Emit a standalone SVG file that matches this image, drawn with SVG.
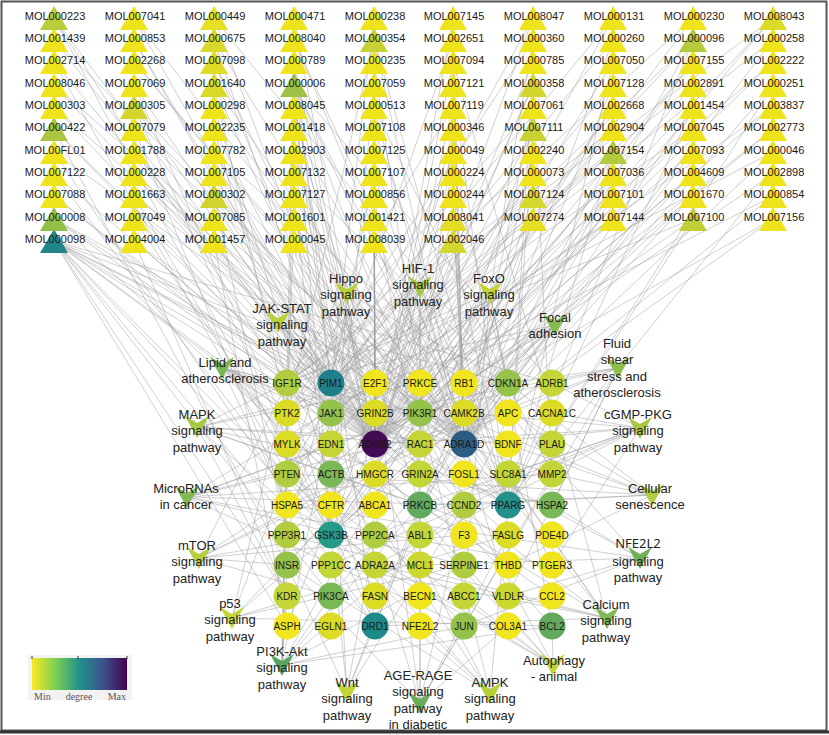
<svg xmlns="http://www.w3.org/2000/svg" xmlns:xlink="http://www.w3.org/1999/xlink" width="829" height="735" viewBox="0 0 829 735">
<style>
.e{stroke:#9c9c9c;stroke-width:0.6;fill:none;stroke-opacity:0.8}
.m{font-family:"Liberation Sans",Arial,sans-serif;font-size:11px;fill:#1a1a1a;text-anchor:middle}
.g{font-family:"Liberation Sans",Arial,sans-serif;font-size:10px;fill:#1a1a1a;text-anchor:middle}
.p{font-family:"Liberation Sans",Arial,sans-serif;font-size:13px;fill:#222;text-anchor:middle}
.n{font-family:"Noto Sans","Liberation Sans",sans-serif;font-size:13px;fill:#222;text-anchor:middle}
.lg{font-family:"Liberation Serif",serif;font-size:10px;fill:#555}
</style>
<defs>
<path id="tri" d="M0,-12L14,12L-14,12Z"/>
<path id="v" d="M-12,-11L0,-4L12,-11L0,11Z"/>
<linearGradient id="vir" x1="0" x2="1" y1="0" y2="0">
<stop offset="0" stop-color="#fde725"/>
<stop offset="0.25" stop-color="#7ad151"/>
<stop offset="0.5" stop-color="#21918c"/>
<stop offset="0.75" stop-color="#3b528b"/>
<stop offset="1" stop-color="#440154"/>
</linearGradient>
</defs>
<rect x="0" y="0" width="829" height="735" fill="#fff"/>
<rect x="1.5" y="1.5" width="825" height="729" fill="none" stroke="#555" stroke-width="2"/>
<line x1="0" y1="732" x2="829" y2="732" stroke="#333" stroke-width="3"/>
<g id="connectors">
<path class="e" d="M54 18L375 444M54 18L287 383M54 18L331 535M54 40L375 444M54 40L464 444M54 62L375 444M54 62L287 474M54 85L464 444M54 85L331 383M54 107L375 444M54 107L508 505M54 129L375 444M54 129L331 413M54 129L287 565M54 152L464 444M54 152L375 626M54 174L375 444M54 174L331 535M54 196L375 444M54 196L287 383M54 219L375 444M54 219L464 444M54 219L331 474M54 219L508 505M54 241L375 444M54 241L464 444M54 241L331 383M54 241L508 505M54 241L375 626M54 241L331 535M54 241L287 413M54 241L420 505M54 241L287 596M54 241L552 383M54 241L420 383M54 241L331 596M54 241L287 626M54 241L375 565"/>
<path class="e" d="M134 18L375 444M134 18L464 444M134 40L375 444M134 40L331 383M134 62L464 444M134 62L508 505M134 85L375 444M134 85L375 626M134 107L375 444M134 107L420 413M134 107L331 535M134 129L464 444M134 129L287 505M134 152L375 444M134 152L331 383M134 174L375 444M134 174L508 474M134 196L464 444M134 196L331 535M134 219L375 444M134 219L287 444M134 241L375 444M134 241L331 383M134 241L287 596"/>
<path class="e" d="M214 18L375 444M214 18L508 383M214 40L464 444M214 40L331 383M214 62L375 444M214 62L420 474M214 85L375 444M214 85L508 505M214 85L287 413M214 107L464 444M214 107L375 626M214 129L375 444M214 129L331 535M214 152L375 444M214 152L552 444M214 174L464 444M214 174L331 383M214 196L375 444M214 196L508 505M214 196L287 535M214 219L375 444M214 219L420 383M214 241L464 444M214 241L331 413M214 241L287 626"/>
<path class="e" d="M294 18L375 444M294 18L287 383M294 40L464 444M294 40L508 505M294 62L375 444M294 62L331 383M294 85L375 444M294 85L464 444M294 85L508 505M294 85L331 535M294 85L420 413M294 85L287 474M294 85L552 383M294 85L375 626M294 107L375 444M294 107L331 383M294 129L464 444M294 129L420 505M294 152L375 444M294 152L375 413M294 174L375 444M294 174L508 383M294 196L464 444M294 196L331 535M294 219L375 444M294 219L287 413M294 241L375 444M294 241L464 383"/>
<path class="e" d="M374 18L375 444M374 18L331 383M374 40L464 444M374 40L508 505M374 40L287 413M374 62L375 444M374 62L420 383M374 85L375 444M374 85L331 535M374 107L464 444M374 107L552 474M374 129L375 444M374 129L508 505M374 152L375 444M374 152L375 383M374 174L464 444M374 174L331 383M374 196L375 444M374 196L420 474M374 219L375 444M374 219L287 535M374 241L464 444M374 241L375 383"/>
<path class="e" d="M453 18L375 444M453 18L464 444M453 40L464 444M453 40L331 383M453 62L375 444M453 62L552 413M453 85L464 444M453 85L508 505M453 107L375 444M453 107L287 383M453 129L375 444M453 129L420 413M453 152L464 444M453 152L331 535M453 174L375 444M453 174L508 383M453 196L464 444M453 196L287 474M453 219L375 444M453 219L464 383M453 241L375 444M453 241L331 383M453 241L508 505"/>
<path class="e" d="M533 18L375 444M533 18L331 383M533 40L464 444M533 40L287 413M533 62L375 444M533 62L508 505M533 85L375 444M533 85L331 535M533 85L552 474M533 107L464 444M533 107L287 383M533 129L375 444M533 129L420 474M533 129L508 505M533 152L464 444M533 152L331 383M533 174L375 444M533 174L287 505M533 196L375 444M533 196L464 413M533 219L464 444M533 219L375 626"/>
<path class="e" d="M613 18L375 444M613 18L287 413M613 40L464 444M613 40L331 383M613 62L375 444M613 62L508 505M613 85L464 444M613 85L287 474M613 107L375 444M613 107L331 535M613 129L375 444M613 129L287 383M613 152L464 444M613 152L508 505M613 152L331 383M613 152L287 444M613 174L375 444M613 174L420 505M613 196L464 444M613 196L287 565M613 219L375 444M613 219L331 413"/>
<path class="e" d="M693 18L375 444M693 18L287 383M693 40L464 444M693 40L331 383M693 40L508 505M693 40L287 474M693 62L375 444M693 62L331 535M693 85L375 444M693 85L287 413M693 107L464 444M693 107L508 505M693 129L375 444M693 129L331 383M693 152L464 444M693 152L287 505M693 174L375 444M693 174L420 444M693 196L464 444M693 196L331 535M693 219L375 444M693 219L287 383M693 219L508 505"/>
<path class="e" d="M773 18L375 444M773 18L287 383M773 18L331 535M773 40L464 444M773 40L331 383M773 62L375 444M773 62L287 474M773 85L464 444M773 85L508 505M773 107L375 444M773 107L331 413M773 129L375 444M773 129L287 535M773 152L464 444M773 152L331 383M773 174L375 444M773 174L508 505M773 196L464 444M773 196L287 444M773 219L375 444M773 219L331 535"/>
<path class="e" d="M347 293L464 413M347 293L331 535M347 293L375 535M347 293L464 505M347 293L287 383M347 293L508 383M347 293L287 474"/>
<path class="e" d="M420 287L287 383M420 287L375 383M420 287L420 413M420 287L331 413M420 287L420 444M420 287L552 565M420 287L508 596M420 287L287 626M420 287L375 474"/>
<path class="e" d="M490 293L287 383M490 293L420 413M490 293L508 383M490 293L287 474M490 293L331 535M490 293L420 444M490 293L464 596M490 293L552 626"/>
<path class="e" d="M278 322L331 383M278 322L331 413M278 322L420 413M278 322L464 505M278 322L508 535M278 322L508 383M278 322L552 626"/>
<path class="e" d="M555 325L287 383M555 325L287 413M555 325L420 413M555 325L420 444M555 325L464 505M555 325L331 535M555 325L331 596M555 325L420 505M555 325L375 474M555 325L464 383"/>
<path class="e" d="M618 368L331 474M618 368L420 413M618 368L464 626M618 368L508 596M618 368L375 413M618 368L287 505M618 368L552 505M618 368L508 383"/>
<path class="e" d="M222 368L287 383M222 368L331 413M222 368L420 413M222 368L420 444M222 368L331 474M222 368L552 474M222 368L464 626M222 368L287 505M222 368L508 505M222 368L552 596M222 368L375 505"/>
<path class="e" d="M197 427L287 383M197 427L375 383M197 427L420 383M197 427L420 444M197 427L508 444M197 427L287 505M197 427L420 505M197 427L287 596M197 427L552 505M197 427L508 535"/>
<path class="e" d="M187 497L287 474M187 497L375 383M187 497L508 383M187 497L508 413M187 497L420 413M187 497L464 505M187 497L552 474M187 497L464 626M187 497L464 565M187 497L552 565"/>
<path class="e" d="M199 558L287 383M199 558L331 535M199 558L420 413M199 558L420 444M199 558L287 565M199 558L464 535M199 558L331 596M199 558L375 474"/>
<path class="e" d="M232 618L287 474M232 618L508 383M232 618L508 535M232 618L464 383M232 618L552 626M232 618L464 565M232 618L287 383"/>
<path class="e" d="M282 665L287 383M282 665L287 413M282 665L331 413M282 665L331 596M282 665L287 596M282 665L464 505M282 665L420 413M282 665L287 565M282 665L464 626M282 665L552 626M282 665L287 474M282 665L420 505M282 665L464 565"/>
<path class="e" d="M347 692L464 413M347 692L331 535M347 692L375 535M347 692L464 505M347 692L420 505M347 692L331 413M347 692L287 565"/>
<path class="e" d="M420 703L420 413M420 703L464 505M420 703L552 474M420 703L420 505M420 703L331 413M420 703L508 626M420 703L287 565M420 703L508 535M420 703L464 626M420 703L375 383"/>
<path class="e" d="M490 693L287 383M490 693L420 413M490 693L375 474M490 693L331 535M490 693L375 596M490 693L508 505M490 693L287 474M490 693L287 565"/>
<path class="e" d="M553 665L287 383M553 665L287 474M553 665L464 596M553 665L552 626M553 665L331 413M553 665L420 413M553 665L287 505M553 665L375 565"/>
<path class="e" d="M640 428L552 383M640 428L375 444M640 428L464 444M640 428L552 413M640 428L508 474M640 428L375 535M640 428L331 565M640 428L375 565M640 428L552 565M640 428L420 505M640 428L464 413"/>
<path class="e" d="M652 495L464 383M652 495L508 383M652 495L287 474M652 495L420 413M652 495L464 505M652 495L552 474M652 495L508 565M652 495L375 383M652 495L420 505"/>
<path class="e" d="M640 558L464 626M640 558L508 596M640 558L420 565M640 558L552 505M640 558L375 413M640 558L287 505M640 558L508 413"/>
<path class="e" d="M607 618L552 413M607 618L464 413M607 618L508 474M607 618L420 383M607 618L375 444M607 618L287 535M607 618L375 626M607 618L420 505M607 618L331 565M607 618L375 565"/>
</g>
<g id="MOL000098"><use href="#tri" x="54" y="241" fill="#22858a"/><text class="m" x="55" y="243">MOL000098</text></g>
<g id="MOL004004"><use href="#tri" x="134" y="241" fill="#efe41c"/><text class="m" x="135" y="243">MOL004004</text></g>
<g id="MOL001457"><use href="#tri" x="214" y="241" fill="#efe41c"/><text class="m" x="215" y="243">MOL001457</text></g>
<g id="MOL000045"><use href="#tri" x="294" y="241" fill="#efe41c"/><text class="m" x="295" y="243">MOL000045</text></g>
<g id="MOL008039"><use href="#tri" x="374" y="241" fill="#efe41c"/><text class="m" x="375" y="243">MOL008039</text></g>
<g id="MOL002046"><use href="#tri" x="453" y="241" fill="#d5d82c"/><text class="m" x="454" y="243">MOL002046</text></g>
<g id="MOL000008"><use href="#tri" x="54" y="219" fill="#93bf48"/><text class="m" x="55" y="221">MOL000008</text></g>
<g id="MOL007049"><use href="#tri" x="134" y="219" fill="#efe41c"/><text class="m" x="135" y="221">MOL007049</text></g>
<g id="MOL007085"><use href="#tri" x="214" y="219" fill="#efe41c"/><text class="m" x="215" y="221">MOL007085</text></g>
<g id="MOL001601"><use href="#tri" x="294" y="219" fill="#efe41c"/><text class="m" x="295" y="221">MOL001601</text></g>
<g id="MOL001421"><use href="#tri" x="374" y="219" fill="#efe41c"/><text class="m" x="375" y="221">MOL001421</text></g>
<g id="MOL008041"><use href="#tri" x="453" y="219" fill="#e3dd24"/><text class="m" x="454" y="221">MOL008041</text></g>
<g id="MOL007274"><use href="#tri" x="533" y="219" fill="#e6df22"/><text class="m" x="534" y="221">MOL007274</text></g>
<g id="MOL007144"><use href="#tri" x="613" y="219" fill="#efe41c"/><text class="m" x="614" y="221">MOL007144</text></g>
<g id="MOL007100"><use href="#tri" x="693" y="219" fill="#c0ce38"/><text class="m" x="694" y="221">MOL007100</text></g>
<g id="MOL007156"><use href="#tri" x="773" y="219" fill="#efe41c"/><text class="m" x="774" y="221">MOL007156</text></g>
<g id="MOL007088"><use href="#tri" x="54" y="196" fill="#efe41c"/><text class="m" x="55" y="198">MOL007088</text></g>
<g id="MOL001663"><use href="#tri" x="134" y="196" fill="#efe41c"/><text class="m" x="135" y="198">MOL001663</text></g>
<g id="MOL000302"><use href="#tri" x="214" y="196" fill="#cfd430"/><text class="m" x="215" y="198">MOL000302</text></g>
<g id="MOL007127"><use href="#tri" x="294" y="196" fill="#efe41c"/><text class="m" x="295" y="198">MOL007127</text></g>
<g id="MOL000856"><use href="#tri" x="374" y="196" fill="#efe41c"/><text class="m" x="375" y="198">MOL000856</text></g>
<g id="MOL000244"><use href="#tri" x="453" y="196" fill="#efe41c"/><text class="m" x="454" y="198">MOL000244</text></g>
<g id="MOL007124"><use href="#tri" x="533" y="196" fill="#d5d82c"/><text class="m" x="534" y="198">MOL007124</text></g>
<g id="MOL007101"><use href="#tri" x="613" y="196" fill="#efe41c"/><text class="m" x="614" y="198">MOL007101</text></g>
<g id="MOL001670"><use href="#tri" x="693" y="196" fill="#efe41c"/><text class="m" x="694" y="198">MOL001670</text></g>
<g id="MOL000854"><use href="#tri" x="773" y="196" fill="#efe41c"/><text class="m" x="774" y="198">MOL000854</text></g>
<g id="MOL007122"><use href="#tri" x="54" y="174" fill="#efe41c"/><text class="m" x="55" y="176">MOL007122</text></g>
<g id="MOL000228"><use href="#tri" x="134" y="174" fill="#efe41c"/><text class="m" x="135" y="176">MOL000228</text></g>
<g id="MOL007105"><use href="#tri" x="214" y="174" fill="#efe41c"/><text class="m" x="215" y="176">MOL007105</text></g>
<g id="MOL007132"><use href="#tri" x="294" y="174" fill="#efe41c"/><text class="m" x="295" y="176">MOL007132</text></g>
<g id="MOL007107"><use href="#tri" x="374" y="174" fill="#efe41c"/><text class="m" x="375" y="176">MOL007107</text></g>
<g id="MOL000224"><use href="#tri" x="453" y="174" fill="#efe41c"/><text class="m" x="454" y="176">MOL000224</text></g>
<g id="MOL000073"><use href="#tri" x="533" y="174" fill="#efe41c"/><text class="m" x="534" y="176">MOL000073</text></g>
<g id="MOL007036"><use href="#tri" x="613" y="174" fill="#efe41c"/><text class="m" x="614" y="176">MOL007036</text></g>
<g id="MOL004609"><use href="#tri" x="693" y="174" fill="#efe41c"/><text class="m" x="694" y="176">MOL004609</text></g>
<g id="MOL002898"><use href="#tri" x="773" y="174" fill="#efe41c"/><text class="m" x="774" y="176">MOL002898</text></g>
<g id="MOL00FL01"><use href="#tri" x="54" y="152" fill="#efe41c"/><text class="m" x="55" y="154">MOL00FL01</text></g>
<g id="MOL001788"><use href="#tri" x="134" y="152" fill="#efe41c"/><text class="m" x="135" y="154">MOL001788</text></g>
<g id="MOL007782"><use href="#tri" x="214" y="152" fill="#efe41c"/><text class="m" x="215" y="154">MOL007782</text></g>
<g id="MOL002903"><use href="#tri" x="294" y="152" fill="#efe41c"/><text class="m" x="295" y="154">MOL002903</text></g>
<g id="MOL007125"><use href="#tri" x="374" y="152" fill="#efe41c"/><text class="m" x="375" y="154">MOL007125</text></g>
<g id="MOL000049"><use href="#tri" x="453" y="152" fill="#efe41c"/><text class="m" x="454" y="154">MOL000049</text></g>
<g id="MOL002240"><use href="#tri" x="533" y="152" fill="#efe41c"/><text class="m" x="534" y="154">MOL002240</text></g>
<g id="MOL007154"><use href="#tri" x="613" y="152" fill="#b2ca3d"/><text class="m" x="614" y="154">MOL007154</text></g>
<g id="MOL007093"><use href="#tri" x="693" y="152" fill="#efe41c"/><text class="m" x="694" y="154">MOL007093</text></g>
<g id="MOL000046"><use href="#tri" x="773" y="152" fill="#efe41c"/><text class="m" x="774" y="154">MOL000046</text></g>
<g id="MOL000422"><use href="#tri" x="54" y="129" fill="#a9c641"/><text class="m" x="55" y="131">MOL000422</text></g>
<g id="MOL007079"><use href="#tri" x="134" y="129" fill="#efe41c"/><text class="m" x="135" y="131">MOL007079</text></g>
<g id="MOL002235"><use href="#tri" x="214" y="129" fill="#efe41c"/><text class="m" x="215" y="131">MOL002235</text></g>
<g id="MOL001418"><use href="#tri" x="294" y="129" fill="#efe41c"/><text class="m" x="295" y="131">MOL001418</text></g>
<g id="MOL007108"><use href="#tri" x="374" y="129" fill="#efe41c"/><text class="m" x="375" y="131">MOL007108</text></g>
<g id="MOL000346"><use href="#tri" x="453" y="129" fill="#efe41c"/><text class="m" x="454" y="131">MOL000346</text></g>
<g id="MOL007111"><use href="#tri" x="533" y="129" fill="#c9d233"/><text class="m" x="534" y="131">MOL007111</text></g>
<g id="MOL002904"><use href="#tri" x="613" y="129" fill="#efe41c"/><text class="m" x="614" y="131">MOL002904</text></g>
<g id="MOL007045"><use href="#tri" x="693" y="129" fill="#efe41c"/><text class="m" x="694" y="131">MOL007045</text></g>
<g id="MOL002773"><use href="#tri" x="773" y="129" fill="#efe41c"/><text class="m" x="774" y="131">MOL002773</text></g>
<g id="MOL000303"><use href="#tri" x="54" y="107" fill="#efe41c"/><text class="m" x="55" y="109">MOL000303</text></g>
<g id="MOL000305"><use href="#tri" x="134" y="107" fill="#d2d62e"/><text class="m" x="135" y="109">MOL000305</text></g>
<g id="MOL000298"><use href="#tri" x="214" y="107" fill="#efe41c"/><text class="m" x="215" y="109">MOL000298</text></g>
<g id="MOL008045"><use href="#tri" x="294" y="107" fill="#efe41c"/><text class="m" x="295" y="109">MOL008045</text></g>
<g id="MOL000513"><use href="#tri" x="374" y="107" fill="#efe41c"/><text class="m" x="375" y="109">MOL000513</text></g>
<g id="MOL007119"><use href="#tri" x="453" y="107" fill="#efe41c"/><text class="m" x="454" y="109">MOL007119</text></g>
<g id="MOL007061"><use href="#tri" x="533" y="107" fill="#efe41c"/><text class="m" x="534" y="109">MOL007061</text></g>
<g id="MOL002668"><use href="#tri" x="613" y="107" fill="#efe41c"/><text class="m" x="614" y="109">MOL002668</text></g>
<g id="MOL001454"><use href="#tri" x="693" y="107" fill="#efe41c"/><text class="m" x="694" y="109">MOL001454</text></g>
<g id="MOL003837"><use href="#tri" x="773" y="107" fill="#efe41c"/><text class="m" x="774" y="109">MOL003837</text></g>
<g id="MOL008046"><use href="#tri" x="54" y="85" fill="#efe41c"/><text class="m" x="55" y="87">MOL008046</text></g>
<g id="MOL007069"><use href="#tri" x="134" y="85" fill="#efe41c"/><text class="m" x="135" y="87">MOL007069</text></g>
<g id="MOL001640"><use href="#tri" x="214" y="85" fill="#d9d92a"/><text class="m" x="215" y="87">MOL001640</text></g>
<g id="MOL000006"><use href="#tri" x="294" y="85" fill="#9cc145"/><text class="m" x="295" y="87">MOL000006</text></g>
<g id="MOL007059"><use href="#tri" x="374" y="85" fill="#efe41c"/><text class="m" x="375" y="87">MOL007059</text></g>
<g id="MOL007121"><use href="#tri" x="453" y="85" fill="#efe41c"/><text class="m" x="454" y="87">MOL007121</text></g>
<g id="MOL000358"><use href="#tri" x="533" y="85" fill="#d2d62e"/><text class="m" x="534" y="87">MOL000358</text></g>
<g id="MOL007128"><use href="#tri" x="613" y="85" fill="#efe41c"/><text class="m" x="614" y="87">MOL007128</text></g>
<g id="MOL002891"><use href="#tri" x="693" y="85" fill="#efe41c"/><text class="m" x="694" y="87">MOL002891</text></g>
<g id="MOL000251"><use href="#tri" x="773" y="85" fill="#efe41c"/><text class="m" x="774" y="87">MOL000251</text></g>
<g id="MOL002714"><use href="#tri" x="54" y="62" fill="#efe41c"/><text class="m" x="55" y="64">MOL002714</text></g>
<g id="MOL002268"><use href="#tri" x="134" y="62" fill="#efe41c"/><text class="m" x="135" y="64">MOL002268</text></g>
<g id="MOL007098"><use href="#tri" x="214" y="62" fill="#e0dc25"/><text class="m" x="215" y="64">MOL007098</text></g>
<g id="MOL000789"><use href="#tri" x="294" y="62" fill="#efe41c"/><text class="m" x="295" y="64">MOL000789</text></g>
<g id="MOL000235"><use href="#tri" x="374" y="62" fill="#efe41c"/><text class="m" x="375" y="64">MOL000235</text></g>
<g id="MOL007094"><use href="#tri" x="453" y="62" fill="#efe41c"/><text class="m" x="454" y="64">MOL007094</text></g>
<g id="MOL000785"><use href="#tri" x="533" y="62" fill="#efe41c"/><text class="m" x="534" y="64">MOL000785</text></g>
<g id="MOL007050"><use href="#tri" x="613" y="62" fill="#efe41c"/><text class="m" x="614" y="64">MOL007050</text></g>
<g id="MOL007155"><use href="#tri" x="693" y="62" fill="#efe41c"/><text class="m" x="694" y="64">MOL007155</text></g>
<g id="MOL002222"><use href="#tri" x="773" y="62" fill="#efe41c"/><text class="m" x="774" y="64">MOL002222</text></g>
<g id="MOL001439"><use href="#tri" x="54" y="40" fill="#efe41c"/><text class="m" x="55" y="42">MOL001439</text></g>
<g id="MOL000853"><use href="#tri" x="134" y="40" fill="#efe41c"/><text class="m" x="135" y="42">MOL000853</text></g>
<g id="MOL000675"><use href="#tri" x="214" y="40" fill="#d8d92a"/><text class="m" x="215" y="42">MOL000675</text></g>
<g id="MOL008040"><use href="#tri" x="294" y="40" fill="#efe41c"/><text class="m" x="295" y="42">MOL008040</text></g>
<g id="MOL000354"><use href="#tri" x="374" y="40" fill="#c6d134"/><text class="m" x="375" y="42">MOL000354</text></g>
<g id="MOL002651"><use href="#tri" x="453" y="40" fill="#efe41c"/><text class="m" x="454" y="42">MOL002651</text></g>
<g id="MOL000360"><use href="#tri" x="533" y="40" fill="#efe41c"/><text class="m" x="534" y="42">MOL000360</text></g>
<g id="MOL000260"><use href="#tri" x="613" y="40" fill="#efe41c"/><text class="m" x="614" y="42">MOL000260</text></g>
<g id="MOL000096"><use href="#tri" x="693" y="40" fill="#b5cb3c"/><text class="m" x="694" y="42">MOL000096</text></g>
<g id="MOL000258"><use href="#tri" x="773" y="40" fill="#efe41c"/><text class="m" x="774" y="42">MOL000258</text></g>
<g id="MOL000223"><use href="#tri" x="54" y="18" fill="#b9cd3a"/><text class="m" x="55" y="20">MOL000223</text></g>
<g id="MOL007041"><use href="#tri" x="134" y="18" fill="#efe41c"/><text class="m" x="135" y="20">MOL007041</text></g>
<g id="MOL000449"><use href="#tri" x="214" y="18" fill="#e6df22"/><text class="m" x="215" y="20">MOL000449</text></g>
<g id="MOL000471"><use href="#tri" x="294" y="18" fill="#efe41c"/><text class="m" x="295" y="20">MOL000471</text></g>
<g id="MOL000238"><use href="#tri" x="374" y="18" fill="#efe41c"/><text class="m" x="375" y="20">MOL000238</text></g>
<g id="MOL007145"><use href="#tri" x="453" y="18" fill="#efe41c"/><text class="m" x="454" y="20">MOL007145</text></g>
<g id="MOL008047"><use href="#tri" x="533" y="18" fill="#efe41c"/><text class="m" x="534" y="20">MOL008047</text></g>
<g id="MOL000131"><use href="#tri" x="613" y="18" fill="#efe41c"/><text class="m" x="614" y="20">MOL000131</text></g>
<g id="MOL000230"><use href="#tri" x="693" y="18" fill="#efe41c"/><text class="m" x="694" y="20">MOL000230</text></g>
<g id="MOL008043"><use href="#tri" x="773" y="18" fill="#dcdb28"/><text class="m" x="774" y="20">MOL008043</text></g>
<g id="IGF1R"><circle cx="287" cy="383" r="13.5" fill="#b0cd40"/><text class="g" x="287" y="386.6">IGF1R</text></g>
<g id="PIM1"><circle cx="331" cy="383" r="13.5" fill="#1f8089"/><text class="g" x="331" y="386.6">PIM1</text></g>
<g id="E2F1"><circle cx="375" cy="383" r="13.5" fill="#f0e51e"/><text class="g" x="375" y="386.6">E2F1</text></g>
<g id="PRKCE"><circle cx="420" cy="383" r="13.5" fill="#f0e51e"/><text class="g" x="420" y="386.6">PRKCE</text></g>
<g id="RB1"><circle cx="464" cy="383" r="13.5" fill="#f0e51e"/><text class="g" x="464" y="386.6">RB1</text></g>
<g id="CDKN1A"><circle cx="508" cy="383" r="13.5" fill="#94c24b"/><text class="g" x="508" y="386.6">CDKN1A</text></g>
<g id="ADRB1"><circle cx="552" cy="383" r="13.5" fill="#c4d537"/><text class="g" x="552" y="386.6">ADRB1</text></g>
<g id="PTK2"><circle cx="287" cy="413" r="13.5" fill="#dcdc26"/><text class="g" x="287" y="416.6">PTK2</text></g>
<g id="JAK1"><circle cx="331" cy="413" r="13.5" fill="#94c24b"/><text class="g" x="331" y="416.6">JAK1</text></g>
<g id="GRIN2B"><circle cx="375" cy="413" r="13.5" fill="#dcdc26"/><text class="g" x="375" y="416.6">GRIN2B</text></g>
<g id="PIK3R1"><circle cx="420" cy="413" r="13.5" fill="#94c24b"/><text class="g" x="420" y="416.6">PIK3R1</text></g>
<g id="CAMK2B"><circle cx="464" cy="413" r="13.5" fill="#dcdc26"/><text class="g" x="464" y="416.6">CAMK2B</text></g>
<g id="APC"><circle cx="508" cy="413" r="13.5" fill="#f0e51e"/><text class="g" x="508" y="416.6">APC</text></g>
<g id="CACNA1C"><circle cx="552" cy="413" r="13.5" fill="#dcdc26"/><text class="g" x="552" y="416.6">CACNA1C</text></g>
<g id="MYLK"><circle cx="287" cy="444" r="13.5" fill="#dcdc26"/><text class="g" x="287" y="447.6">MYLK</text></g>
<g id="EDN1"><circle cx="331" cy="444" r="13.5" fill="#c4d537"/><text class="g" x="331" y="447.6">EDN1</text></g>
<g id="ADRB2"><circle cx="375" cy="444" r="13.5" fill="#450a55"/><text class="g" x="375" y="447.6">ADRB2</text></g>
<g id="RAC1"><circle cx="420" cy="444" r="13.5" fill="#c4d537"/><text class="g" x="420" y="447.6">RAC1</text></g>
<g id="ADRA1D"><circle cx="464" cy="444" r="13.5" fill="#2c5c83"/><text class="g" x="464" y="447.6">ADRA1D</text></g>
<g id="BDNF"><circle cx="508" cy="444" r="13.5" fill="#f0e51e"/><text class="g" x="508" y="447.6">BDNF</text></g>
<g id="PLAU"><circle cx="552" cy="444" r="13.5" fill="#c4d537"/><text class="g" x="552" y="447.6">PLAU</text></g>
<g id="PTEN"><circle cx="287" cy="474" r="13.5" fill="#b0cd40"/><text class="g" x="287" y="477.6">PTEN</text></g>
<g id="ACTB"><circle cx="331" cy="474" r="13.5" fill="#7ab756"/><text class="g" x="331" y="477.6">ACTB</text></g>
<g id="HMGCR"><circle cx="375" cy="474" r="13.5" fill="#dcdc26"/><text class="g" x="375" y="477.6">HMGCR</text></g>
<g id="GRIN2A"><circle cx="420" cy="474" r="13.5" fill="#c4d537"/><text class="g" x="420" y="477.6">GRIN2A</text></g>
<g id="FOSL1"><circle cx="464" cy="474" r="13.5" fill="#f0e51e"/><text class="g" x="464" y="477.6">FOSL1</text></g>
<g id="SLC8A1"><circle cx="508" cy="474" r="13.5" fill="#c4d537"/><text class="g" x="508" y="477.6">SLC8A1</text></g>
<g id="MMP2"><circle cx="552" cy="474" r="13.5" fill="#c4d537"/><text class="g" x="552" y="477.6">MMP2</text></g>
<g id="HSPA5"><circle cx="287" cy="505" r="13.5" fill="#f0e51e"/><text class="g" x="287" y="508.6">HSPA5</text></g>
<g id="CFTR"><circle cx="331" cy="505" r="13.5" fill="#f0e51e"/><text class="g" x="331" y="508.6">CFTR</text></g>
<g id="ABCA1"><circle cx="375" cy="505" r="13.5" fill="#f0e51e"/><text class="g" x="375" y="508.6">ABCA1</text></g>
<g id="PRKCB"><circle cx="420" cy="505" r="13.5" fill="#62ab5e"/><text class="g" x="420" y="508.6">PRKCB</text></g>
<g id="CCND2"><circle cx="464" cy="505" r="13.5" fill="#b0cd40"/><text class="g" x="464" y="508.6">CCND2</text></g>
<g id="PPARG"><circle cx="508" cy="505" r="13.5" fill="#22908b"/><text class="g" x="508" y="508.6">PPARG</text></g>
<g id="HSPA2"><circle cx="552" cy="505" r="13.5" fill="#7ab756"/><text class="g" x="552" y="508.6">HSPA2</text></g>
<g id="PPP3R1"><circle cx="287" cy="535" r="13.5" fill="#b0cd40"/><text class="g" x="287" y="538.6">PPP3R1</text></g>
<g id="GSK3B"><circle cx="331" cy="535" r="13.5" fill="#259a88"/><text class="g" x="331" y="538.6">GSK3B</text></g>
<g id="PPP2CA"><circle cx="375" cy="535" r="13.5" fill="#b0cd40"/><text class="g" x="375" y="538.6">PPP2CA</text></g>
<g id="ABL1"><circle cx="420" cy="535" r="13.5" fill="#c4d537"/><text class="g" x="420" y="538.6">ABL1</text></g>
<g id="F3"><circle cx="464" cy="535" r="13.5" fill="#f0e51e"/><text class="g" x="464" y="538.6">F3</text></g>
<g id="FASLG"><circle cx="508" cy="535" r="13.5" fill="#dcdc26"/><text class="g" x="508" y="538.6">FASLG</text></g>
<g id="PDE4D"><circle cx="552" cy="535" r="13.5" fill="#f0e51e"/><text class="g" x="552" y="538.6">PDE4D</text></g>
<g id="INSR"><circle cx="287" cy="565" r="13.5" fill="#94c24b"/><text class="g" x="287" y="568.6">INSR</text></g>
<g id="PPP1CC"><circle cx="331" cy="565" r="13.5" fill="#c4d537"/><text class="g" x="331" y="568.6">PPP1CC</text></g>
<g id="ADRA2A"><circle cx="375" cy="565" r="13.5" fill="#c4d537"/><text class="g" x="375" y="568.6">ADRA2A</text></g>
<g id="MCL1"><circle cx="420" cy="565" r="13.5" fill="#cdd732"/><text class="g" x="420" y="568.6">MCL1</text></g>
<g id="SERPINE1"><circle cx="464" cy="565" r="13.5" fill="#b0cd40"/><text class="g" x="464" y="568.6">SERPINE1</text></g>
<g id="THBD"><circle cx="508" cy="565" r="13.5" fill="#f0e51e"/><text class="g" x="508" y="568.6">THBD</text></g>
<g id="PTGER3"><circle cx="552" cy="565" r="13.5" fill="#f0e51e"/><text class="g" x="552" y="568.6">PTGER3</text></g>
<g id="KDR"><circle cx="287" cy="596" r="13.5" fill="#c4d537"/><text class="g" x="287" y="599.6">KDR</text></g>
<g id="PIK3CA"><circle cx="331" cy="596" r="13.5" fill="#7ab756"/><text class="g" x="331" y="599.6">PIK3CA</text></g>
<g id="FASN"><circle cx="375" cy="596" r="13.5" fill="#dcdc26"/><text class="g" x="375" y="599.6">FASN</text></g>
<g id="BECN1"><circle cx="420" cy="596" r="13.5" fill="#f0e51e"/><text class="g" x="420" y="599.6">BECN1</text></g>
<g id="ABCC1"><circle cx="464" cy="596" r="13.5" fill="#c4d537"/><text class="g" x="464" y="599.6">ABCC1</text></g>
<g id="VLDLR"><circle cx="508" cy="596" r="13.5" fill="#cdd732"/><text class="g" x="508" y="599.6">VLDLR</text></g>
<g id="CCL2"><circle cx="552" cy="596" r="13.5" fill="#f0e51e"/><text class="g" x="552" y="599.6">CCL2</text></g>
<g id="ASPH"><circle cx="287" cy="626" r="13.5" fill="#f0e51e"/><text class="g" x="287" y="629.6">ASPH</text></g>
<g id="EGLN1"><circle cx="331" cy="626" r="13.5" fill="#dcdc26"/><text class="g" x="331" y="629.6">EGLN1</text></g>
<g id="DRD1"><circle cx="375" cy="626" r="13.5" fill="#1d8a89"/><text class="g" x="375" y="629.6">DRD1</text></g>
<g id="NFE2L2"><circle cx="420" cy="626" r="13.5" fill="#f0e51e"/><text class="g" x="420" y="629.6">NFE2L2</text></g>
<g id="JUN"><circle cx="464" cy="626" r="13.5" fill="#94c24b"/><text class="g" x="464" y="629.6">JUN</text></g>
<g id="COL3A1"><circle cx="508" cy="626" r="13.5" fill="#f0e51e"/><text class="g" x="508" y="629.6">COL3A1</text></g>
<g id="BCL2"><circle cx="552" cy="626" r="13.5" fill="#62ab5e"/><text class="g" x="552" y="629.6">BCL2</text></g>
<g id="hippo"><use href="#v" x="347" y="293" fill="#b9cf3a"/><text class="p" x="346" y="283">Hippo<tspan x="346" dy="16.3">signaling</tspan><tspan x="346" dy="16.3">pathway</tspan></text></g>
<g id="hif1"><use href="#v" x="420" y="287" fill="#a8c740"/><text class="p" x="418" y="273">HIF-1<tspan x="418" dy="16.3">signaling</tspan><tspan x="418" dy="16.3">pathway</tspan></text></g>
<g id="foxo"><use href="#v" x="490" y="293" fill="#c2d236"/><text class="p" x="489" y="283">FoxO<tspan x="489" dy="16.3">signaling</tspan><tspan x="489" dy="16.3">pathway</tspan></text></g>
<g id="jakstat"><use href="#v" x="278" y="322" fill="#b8d03c"/><text class="p" x="282" y="313">JAK-STAT<tspan x="282" dy="16.3">signaling</tspan><tspan x="282" dy="16.3">pathway</tspan></text></g>
<g id="focal"><use href="#v" x="555" y="325" fill="#86bc50"/><text class="p" x="555" y="322">Focal<tspan x="555" dy="16.3">adhesion</tspan></text></g>
<g id="fluid"><use href="#v" x="618" y="368" fill="#8fc04c"/><text class="p" x="617" y="348">Fluid<tspan x="617" dy="16.3">shear</tspan><tspan x="617" dy="16.3">stress and</tspan><tspan x="617" dy="16.3">atherosclerosis</tspan></text></g>
<g id="lipid"><use href="#v" x="222" y="368" fill="#77b654"/><text class="p" x="225" y="367">Lipid and<tspan x="225" dy="16.3">atherosclerosis</tspan></text></g>
<g id="mapk"><use href="#v" x="197" y="427" fill="#a8c843"/><text class="p" x="197" y="419">MAPK<tspan x="197" dy="16.3">signaling</tspan><tspan x="197" dy="16.3">pathway</tspan></text></g>
<g id="micrornas"><use href="#v" x="187" y="497" fill="#80b955"/><text class="p" x="186" y="493">MicroRNAs<tspan x="186" dy="16.3">in cancer</tspan></text></g>
<g id="mtor"><use href="#v" x="199" y="558" fill="#b5cf3e"/><text class="p" x="197" y="550">mTOR<tspan x="197" dy="16.3">signaling</tspan><tspan x="197" dy="16.3">pathway</tspan></text></g>
<g id="p53"><use href="#v" x="232" y="618" fill="#c2d438"/><text class="p" x="230" y="608">p53<tspan x="230" dy="16.3">signaling</tspan><tspan x="230" dy="16.3">pathway</tspan></text></g>
<g id="pi3k"><use href="#v" x="282" y="665" fill="#5aa660"/><text class="p" x="282" y="656">PI3K-Akt<tspan x="282" dy="16.3">signaling</tspan><tspan x="282" dy="16.3">pathway</tspan></text></g>
<g id="wnt"><use href="#v" x="347" y="692" fill="#c2d438"/><text class="p" x="347" y="687">Wnt<tspan x="347" dy="16.3">signaling</tspan><tspan x="347" dy="16.3">pathway</tspan></text></g>
<g id="agerage"><use href="#v" x="420" y="703" fill="#6aae58"/><text class="p" x="418" y="680">AGE-RAGE<tspan x="418" dy="16.3">signaling</tspan><tspan x="418" dy="16.3">pathway</tspan><tspan x="418" dy="16.3">in diabetic</tspan></text></g>
<g id="ampk"><use href="#v" x="490" y="693" fill="#b8d03c"/><text class="p" x="490" y="687">AMPK<tspan x="490" dy="16.3">signaling</tspan><tspan x="490" dy="16.3">pathway</tspan></text></g>
<g id="autophagy"><use href="#v" x="553" y="665" fill="#c2d438"/><text class="p" x="554" y="665">Autophagy<tspan x="554" dy="16.3">- animal</tspan></text></g>
<g id="cgmp"><use href="#v" x="640" y="428" fill="#a8c843"/><text class="p" x="638" y="419">cGMP-PKG<tspan x="638" dy="16.3">signaling</tspan><tspan x="638" dy="16.3">pathway</tspan></text></g>
<g id="cellular"><use href="#v" x="652" y="495" fill="#b0cc40"/><text class="p" x="650" y="493">Cellular<tspan x="650" dy="16.3">senescence</tspan></text></g>
<g id="nfe2l2path"><use href="#v" x="640" y="558" fill="#6fb05a"/><text class="n" x="638" y="548">NFE2L2</text><text class="p" x="638" y="566">signaling<tspan x="638" dy="16.3">pathway</tspan></text></g>
<g id="calcium"><use href="#v" x="607" y="618" fill="#80b955"/><text class="p" x="606" y="609">Calcium<tspan x="606" dy="16.3">signaling</tspan><tspan x="606" dy="16.3">pathway</tspan></text></g>
<g id="legend">
<rect x="28" y="655" width="104" height="45" fill="#f2f2f2"/>
<rect x="32" y="658" width="95" height="32" fill="url(#vir)"/>
<path d="M32 656v3M78 656v3M127 656v3" stroke="#333" stroke-width="1"/>
<text class="lg" x="34" y="700">Min</text>
<text class="lg" x="79" y="700" text-anchor="middle">degree</text>
<text class="lg" x="126" y="700" text-anchor="end">Max</text>
</g>
</svg>
